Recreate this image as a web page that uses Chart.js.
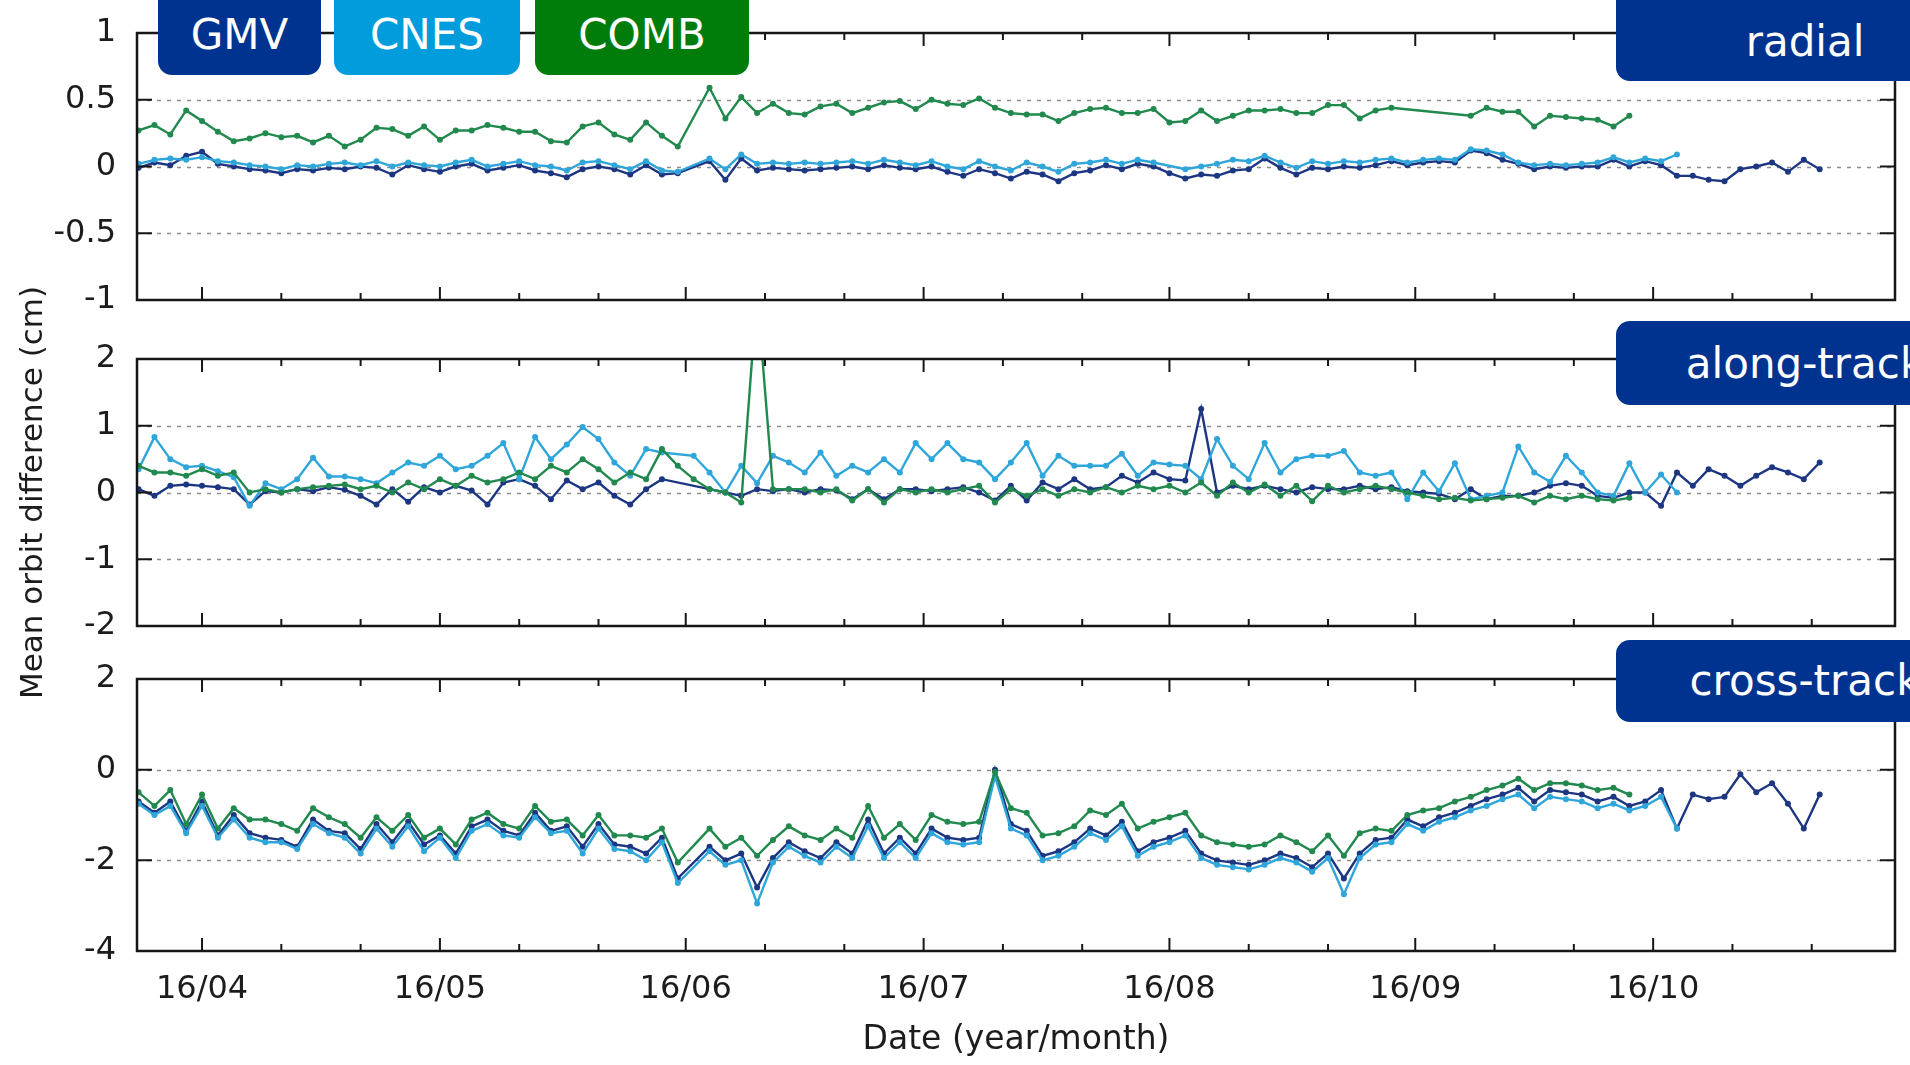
<!DOCTYPE html>
<html>
<head>
<meta charset="utf-8">
<script src="https://cdn.jsdelivr.net/npm/chart.js"></script>
<style>
  html, body { margin: 0; padding: 0; background: #fff; }
  body { position: relative; width: 1910px; height: 1065px; overflow: hidden; font-family: "DejaVu Sans", sans-serif; }
  canvas { position: absolute; left: 0; }
  .tag { position: absolute; border-radius: 14px; z-index: 5; }
  .tag span { position: absolute; left: 0; width: 100%; text-align: center; color: #fff; font-size: 42px; line-height: 42px; white-space: nowrap; }
</style>
</head>
<body>
<canvas id="radial" width="1910" height="320" style="top:0px"></canvas>
<canvas id="along" width="1910" height="440" style="top:280px"></canvas>
<canvas id="cross" width="1910" height="425" style="top:640px"></canvas>

<script>
// x = days since 2016-04-01, one sample every second day
const DAYS = [
  -8, -6, -4, -2, 0, 2, 4, 6, 8, 10,
  12, 14, 16, 18, 20, 22, 24, 26, 28, 30,
  32, 34, 36, 38, 40, 42, 44, 46, 48, 50,
  52, 54, 56, 58, 60, 62, 64, 66, 68, 70,
  72, 74, 76, 78, 80, 82, 84, 86, 88, 90,
  92, 94, 96, 98, 100, 102, 104, 106, 108, 110,
  112, 114, 116, 118, 120, 122, 124, 126, 128, 130,
  132, 134, 136, 138, 140, 142, 144, 146, 148, 150,
  152, 154, 156, 158, 160, 162, 164, 166, 168, 170,
  172, 174, 176, 178, 180, 182, 184, 186, 188, 190,
  192, 194, 196, 198, 200, 202, 204
];
const MONTH_DAYS = [0, 30, 61, 91, 122, 153, 183];
const MONTH_LABELS = ['16/04', '16/05', '16/06', '16/07', '16/08', '16/09', '16/10'];
const MINOR_DAYS = [10, 20, 40, 50, 71, 81, 101, 111, 132, 142, 163, 173, 193, 203];
const X_MIN = -8.2, X_MAX = 213.5;

// radial (cm)
const RADIAL_GMV = [
  -0.01, 0.03, 0.01, 0.08, 0.11, 0.02, 0.0, -0.02, -0.03, -0.05,
  -0.02, -0.03, -0.01, -0.02, 0.0, -0.01, -0.06, 0.01, -0.02, -0.04,
  0.0, 0.02, -0.03, -0.01, 0.01, -0.03, -0.05, -0.08, -0.02, 0.0,
  -0.02, -0.06, 0.01, -0.06, -0.05, null, 0.04, -0.1, 0.06, -0.03,
  -0.01, -0.02, -0.03, -0.02, -0.01, 0.0, -0.02, 0.01, -0.01, -0.02,
  0.0, -0.04, -0.07, -0.02, -0.05, -0.09, -0.04, -0.06, -0.11, -0.05,
  -0.03, 0.01, -0.02, 0.02, 0.0, -0.05, -0.09, -0.06, -0.07, -0.03,
  -0.02, 0.06, -0.01, -0.06, -0.01, -0.02, 0.0, -0.01, 0.01, 0.04,
  0.01, 0.03, 0.04, 0.03, 0.12, 0.1, 0.05, 0.02, -0.02, 0.0,
  -0.01, 0.0, 0.0, 0.05, 0.0, 0.04, 0.01, -0.07, -0.07, -0.1,
  -0.11, -0.02, 0.0, 0.03, -0.04, 0.05, -0.02
];
const RADIAL_CNES = [
  0.02, 0.05, 0.06, 0.05, 0.07, 0.04, 0.03, 0.01, 0.0, -0.02,
  0.01, 0.0, 0.02, 0.03, 0.01, 0.04, 0.0, 0.03, 0.01, 0.0,
  0.03, 0.05, 0.0, 0.02, 0.04, 0.01, 0.0, -0.03, 0.03, 0.04,
  0.01, -0.02, 0.04, -0.03, -0.04, null, 0.06, -0.02, 0.09, 0.02,
  0.03, 0.02, 0.03, 0.02, 0.03, 0.04, 0.02, 0.05, 0.03, 0.01,
  0.04, 0.0, -0.02, 0.04, 0.0, -0.03, 0.03, 0.0, -0.04, 0.02,
  0.03, 0.05, 0.02, 0.05, 0.03, null, -0.02, 0.0, 0.02, 0.05,
  0.04, 0.08, 0.03, -0.01, 0.04, 0.02, 0.04, 0.03, 0.05, 0.06,
  0.03, 0.05, 0.06, 0.05, 0.13, 0.12, 0.09, 0.03, 0.01, 0.02,
  0.01, 0.02, 0.03, 0.07, 0.03, 0.06, 0.04, 0.09, null, null,
  null, null, null, null, null, null, null
];
const RADIAL_COMB = [
  0.27, 0.31, 0.24, 0.42, 0.34, 0.26, 0.19, 0.21, 0.25, 0.22,
  0.23, 0.18, 0.23, 0.15, 0.2, 0.29, 0.28, 0.23, 0.3, 0.2,
  0.27, 0.27, 0.31, 0.29, 0.26, 0.26, 0.19, 0.18, 0.3, 0.33,
  0.24, 0.2, 0.33, 0.23, 0.15, null, 0.59, 0.36, 0.52, 0.4,
  0.47, 0.4, 0.39, 0.45, 0.47, 0.4, 0.44, 0.48, 0.49, 0.43,
  0.5, 0.47, 0.46, 0.51, 0.44, 0.4, 0.39, 0.39, 0.34, 0.4,
  0.43, 0.44, 0.4, 0.4, 0.43, 0.33, 0.34, 0.42, 0.34, 0.38,
  0.42, 0.42, 0.43, 0.4, 0.4, 0.46, 0.46, 0.36, 0.42, 0.44,
  null, null, null, null, 0.38, 0.44, 0.41, 0.41, 0.3, 0.38,
  0.37, 0.36, 0.35, 0.3, 0.38, null, null, null, null, null,
  null, null, null, null, null, null, null
];

// along-track (cm)
const ALONG_GMV = [
  0.05, -0.05, 0.1, 0.12, 0.1, 0.08, 0.05, -0.18, 0.02, 0.0,
  0.05, 0.02, 0.08, 0.04, -0.05, -0.18, 0.05, -0.14, 0.08, 0.0,
  0.1, 0.03, -0.18, 0.15, 0.2, 0.1, -0.1, 0.18, 0.05, 0.15,
  -0.05, -0.18, 0.05, 0.2, null, null, 0.05, 0.0, -0.05, 0.05,
  0.02, 0.05, 0.0, 0.05, 0.03, -0.1, 0.05, -0.1, 0.05, 0.05,
  0.02, 0.05, 0.08, 0.0, -0.12, 0.1, -0.12, 0.15, 0.05, 0.2,
  0.05, 0.08, 0.25, 0.15, 0.3, 0.2, 0.18, 1.25, 0.0, 0.1,
  0.05, 0.1, 0.05, 0.0, 0.08, 0.05, 0.05, 0.1, 0.05, 0.08,
  0.02, 0.0, -0.02, -0.1, 0.05, -0.1, -0.05, -0.05, 0.0, 0.1,
  0.14, 0.1, -0.05, -0.08, 0.0, 0.0, -0.2, 0.3, 0.1, 0.35,
  0.25, 0.1, 0.25, 0.38, 0.3, 0.2, 0.45
];
const ALONG_CNES = [
  0.35, 0.83, 0.5, 0.38, 0.4, 0.32, 0.23, -0.2, 0.14, 0.05,
  0.2, 0.52, 0.24, 0.24, 0.2, 0.14, 0.3, 0.45, 0.4, 0.55,
  0.35, 0.4, 0.55, 0.74, 0.2, 0.83, 0.5, 0.72, 0.98, 0.8,
  0.45, 0.25, 0.65, 0.6, null, 0.55, 0.3, 0.0, 0.4, 0.14,
  0.55, 0.45, 0.3, 0.6, 0.25, 0.4, 0.3, 0.5, 0.3, 0.74,
  0.5, 0.74, 0.5, 0.45, 0.2, 0.45, 0.74, 0.25, 0.55, 0.4,
  0.4, 0.4, 0.58, 0.25, 0.45, 0.42, 0.4, 0.2, 0.8, 0.4,
  0.2, 0.74, 0.3, 0.5, 0.55, 0.55, 0.62, 0.3, 0.25, 0.3,
  -0.1, 0.3, 0.02, 0.44, -0.1, -0.05, 0.0, 0.69, 0.3, 0.16,
  0.55, 0.3, 0.0, -0.05, 0.44, 0.0, 0.27, 0.0, null, null,
  null, null, null, null, null, null, null
];
const ALONG_COMB = [
  0.4, 0.3, 0.3, 0.25, 0.35, 0.25, 0.3, 0.0, 0.05, 0.0,
  0.05, 0.08, 0.1, 0.12, 0.05, 0.1, 0.0, 0.15, 0.05, 0.2,
  0.1, 0.25, 0.15, 0.2, 0.3, 0.2, 0.4, 0.3, 0.5, 0.35,
  0.15, 0.3, 0.2, 0.65, 0.4, 0.2, 0.05, 0.0, -0.15, 3.0,
  0.05, 0.05, 0.05, 0.0, 0.05, -0.12, 0.05, -0.15, 0.05, 0.0,
  0.05, 0.0, 0.05, 0.1, -0.15, 0.05, -0.05, 0.05, -0.05, 0.05,
  0.0, 0.08, 0.0, 0.1, 0.05, 0.1, 0.0, 0.15, -0.05, 0.15,
  0.0, 0.12, -0.05, 0.1, -0.13, 0.1, 0.0, 0.05, 0.1, 0.05,
  0.0, -0.05, -0.1, -0.08, -0.12, -0.1, -0.08, -0.05, -0.15, -0.05,
  -0.1, -0.05, -0.1, -0.12, -0.08, null, null, null, null, null,
  null, null, null, null, null, null, null
];

// cross-track (cm)
const CROSS_GMV = [
  -0.7, -0.95, -0.7, -1.35, -0.7, -1.45, -1.0, -1.4, -1.5, -1.55,
  -1.7, -1.1, -1.35, -1.4, -1.75, -1.2, -1.6, -1.15, -1.65, -1.45,
  -1.85, -1.25, -1.1, -1.35, -1.45, -0.95, -1.35, -1.25, -1.7, -1.2,
  -1.65, -1.7, -1.85, -1.5, -2.4, null, -1.7, -2.0, -1.85, -2.6,
  -1.95, -1.6, -1.8, -1.95, -1.6, -1.85, -1.1, -1.85, -1.5, -1.85,
  -1.3, -1.5, -1.55, -1.5, 0.0, -1.2, -1.35, -1.9, -1.8, -1.6,
  -1.3, -1.45, -1.15, -1.8, -1.6, -1.5, -1.35, -1.85, -2.0, -2.05,
  -2.1, -2.0, -1.85, -1.95, -2.15, -1.85, -2.4, -1.85, -1.55, -1.5,
  -1.1, -1.25, -1.05, -0.95, -0.8, -0.65, -0.55, -0.4, -0.7, -0.45,
  -0.5, -0.55, -0.7, -0.6, -0.8, -0.7, -0.45, -1.3, -0.55, -0.65,
  -0.6, -0.1, -0.5, -0.3, -0.75, -1.3, -0.55
];
const CROSS_CNES = [
  -0.75, -1.0, -0.8, -1.4, -0.8, -1.5, -1.1, -1.5, -1.6, -1.6,
  -1.75, -1.2, -1.4, -1.5, -1.85, -1.3, -1.7, -1.25, -1.8, -1.5,
  -1.95, -1.35, -1.2, -1.45, -1.5, -1.05, -1.4, -1.35, -1.85, -1.3,
  -1.75, -1.8, -2.0, -1.6, -2.5, null, -1.8, -2.1, -2.0, -2.95,
  -2.05, -1.7, -1.9, -2.05, -1.7, -1.95, -1.25, -1.95, -1.6, -1.95,
  -1.4, -1.6, -1.65, -1.6, -0.15, -1.3, -1.45, -2.0, -1.9, -1.7,
  -1.4, -1.55, -1.25, -1.9, -1.7, -1.6, -1.45, -1.95, -2.1, -2.15,
  -2.2, -2.1, -1.95, -2.05, -2.25, -1.95, -2.75, -1.95, -1.65, -1.6,
  -1.2, -1.35, -1.15, -1.05, -0.9, -0.8, -0.65, -0.55, -0.85, -0.6,
  -0.65, -0.7, -0.85, -0.75, -0.9, -0.8, -0.6, -1.3, null, null,
  null, null, null, null, null, null, null
];
const CROSS_COMB = [
  -0.5, -0.8, -0.45, -1.2, -0.55, -1.3, -0.85, -1.1, -1.1, -1.2,
  -1.35, -0.85, -1.05, -1.2, -1.5, -1.05, -1.35, -1.0, -1.5, -1.3,
  -1.65, -1.1, -0.95, -1.2, -1.3, -0.8, -1.15, -1.1, -1.45, -1.0,
  -1.45, -1.45, -1.5, -1.3, -2.05, null, -1.3, -1.7, -1.5, -1.9,
  -1.55, -1.25, -1.45, -1.55, -1.3, -1.5, -0.8, -1.5, -1.2, -1.55,
  -1.0, -1.15, -1.2, -1.15, -0.05, -0.85, -0.95, -1.45, -1.4, -1.25,
  -0.9, -1.0, -0.75, -1.3, -1.15, -1.05, -0.95, -1.45, -1.6, -1.65,
  -1.7, -1.65, -1.45, -1.6, -1.8, -1.45, -1.9, -1.4, -1.3, -1.35,
  -1.0, -0.9, -0.85, -0.7, -0.6, -0.45, -0.35, -0.2, -0.45, -0.3,
  -0.3, -0.35, -0.45, -0.4, -0.55, null, null, null, null, null,
  null, null, null, null, null, null, null
];

const C_GMV = '#1d3682';
const C_CNES = '#2fa6da';
const C_COMB = '#21894d';
const FONT = 'DejaVu Sans';

Chart.defaults.font.family = FONT;
Chart.defaults.color = '#1c1c1c';

// gnuplot-like box: dashed grid, inward ticks on all four sides
const framePlugin = {
  id: 'frame',
  beforeDatasetsDraw(chart, args, opts) {
    const { ctx, chartArea: a, scales: { y } } = chart;
    ctx.save();
    ctx.strokeStyle = '#8e8e8e';
    ctx.lineWidth = 1.5;
    ctx.setLineDash([4, 6]);
    opts.grid.forEach(v => {
      const py = Math.round(y.getPixelForValue(v)) + 0.5;
      ctx.beginPath();
      ctx.moveTo(a.left, py);
      ctx.lineTo(a.right, py);
      ctx.stroke();
    });
    ctx.restore();
  },
  afterDatasetsDraw(chart) {
    const { ctx, chartArea: a, scales: { x, y } } = chart;
    ctx.save();
    ctx.strokeStyle = '#161616';
    ctx.lineWidth = 2;
    ctx.beginPath();
    y.ticks.forEach(t => {
      const py = y.getPixelForValue(t.value);
      ctx.moveTo(a.left, py); ctx.lineTo(a.left + 15, py);
      ctx.moveTo(a.right, py); ctx.lineTo(a.right - 15, py);
    });
    const xTick = (d, len) => {
      const px = x.getPixelForValue(d);
      ctx.moveTo(px, a.bottom); ctx.lineTo(px, a.bottom - len);
      ctx.moveTo(px, a.top); ctx.lineTo(px, a.top + len);
    };
    MONTH_DAYS.forEach(d => xTick(d, 13));
    MINOR_DAYS.forEach(d => xTick(d, 7));
    ctx.stroke();
    ctx.lineWidth = 2.5;
    ctx.strokeRect(a.left, a.top, a.right - a.left, a.bottom - a.top);
    ctx.restore();
  }
};

function series(label, data, color, order) {
  return {
    label, data, order,
    borderColor: color,
    backgroundColor: color,
    pointBackgroundColor: color,
    borderWidth: 2.4,
    pointRadius: 3,
    pointBorderWidth: 0,
    pointHoverRadius: 0,
    tension: 0,
    spanGaps: true
  };
}

function panel(id, p) {
  new Chart(document.getElementById(id), {
    type: 'line',
    data: {
      labels: DAYS,
      datasets: [
        series('GMV', p.gmv, C_GMV, 3),
        series('CNES', p.cnes, C_CNES, 2),
        series('COMB', p.comb, C_COMB, 1)
      ]
    },
    plugins: [framePlugin],
    options: {
      responsive: false,
      animation: false,
      events: [],
      layout: { padding: { top: p.padTop, right: 15, bottom: 0, left: 0 } },
      plugins: {
        legend: { display: false },
        tooltip: { enabled: false },
        frame: { grid: p.grid }
      },
      scales: {
        x: {
          type: 'linear',
          min: X_MIN,
          max: X_MAX,
          grid: { display: false, drawTicks: false },
          border: { display: false },
          afterBuildTicks: s => { s.ticks = MONTH_DAYS.map(v => ({ value: v })); },
          afterFit: s => { s.height = p.axisH; s.paddingLeft = 0; s.paddingRight = 0; },
          ticks: {
            display: !!p.xLabels,
            autoSkip: false,
            maxRotation: 0,
            padding: 19,
            font: { size: 32 },
            callback: v => MONTH_LABELS[MONTH_DAYS.indexOf(v)] || ''
          },
          title: p.xTitle ? {
            display: true,
            text: p.xTitle,
            font: { size: 33 },
            padding: { top: 0, bottom: 5 }
          } : { display: false }
        },
        y: {
          min: p.min,
          max: p.max,
          grid: { display: false, drawTicks: false },
          border: { display: false },
          afterFit: s => { s.width = 137; s.paddingTop = 0; s.paddingBottom = 0; },
          ticks: {
            stepSize: p.step,
            padding: 21,
            font: { size: 32 },
            callback: v => String(v)
          },
          title: p.yTitle ? {
            display: true,
            text: p.yTitle,
            font: { size: 31 },
            padding: { top: 15, bottom: 0 }
          } : { display: false }
        }
      }
    }
  });
}

panel('radial', {
  gmv: RADIAL_GMV, cnes: RADIAL_CNES, comb: RADIAL_COMB,
  min: -1, max: 1, step: 0.5, grid: [0.5, 0, -0.5],
  padTop: 33, axisH: 20
});
panel('along', {
  gmv: ALONG_GMV, cnes: ALONG_CNES, comb: ALONG_COMB,
  min: -2, max: 2, step: 1, grid: [1, 0, -1],
  padTop: 79, axisH: 94,
  yTitle: 'Mean orbit difference (cm)'
});
panel('cross', {
  gmv: CROSS_GMV, cnes: CROSS_CNES, comb: CROSS_COMB,
  min: -4, max: 2, step: 2, grid: [0, -2],
  padTop: 39, axisH: 114,
  xLabels: true, xTitle: 'Date (year/month)'
});

// slide overlays: legend tags and component labels
const TAGS = [
  { text: 'GMV', left: 158, width: 163, top: -20, height: 95, base: 49, bg: '#00338f' },
  { text: 'CNES', left: 334, width: 186, top: -20, height: 95, base: 49, bg: '#009cdc' },
  { text: 'COMB', left: 535, width: 214, top: -20, height: 95, base: 49, bg: '#007c0a' },
  { text: 'radial', left: 1616, width: 378, top: -20, height: 101, base: 56, bg: '#00338f' },
  { text: 'along-track', left: 1616, width: 378, top: 321, height: 84, base: 378, bg: '#00338f' },
  { text: 'cross-track', left: 1616, width: 378, top: 640, height: 82, base: 695, bg: '#00338f' }
];
TAGS.forEach(t => {
  const box = document.createElement('div');
  box.className = 'tag';
  Object.assign(box.style, {
    left: t.left + 'px', top: t.top + 'px',
    width: t.width + 'px', height: t.height + 'px', background: t.bg
  });
  const span = document.createElement('span');
  span.textContent = t.text;
  span.style.top = (t.base - t.top - 35.5) + 'px';
  box.appendChild(span);
  document.body.appendChild(box);
});
</script>
</body>
</html>
